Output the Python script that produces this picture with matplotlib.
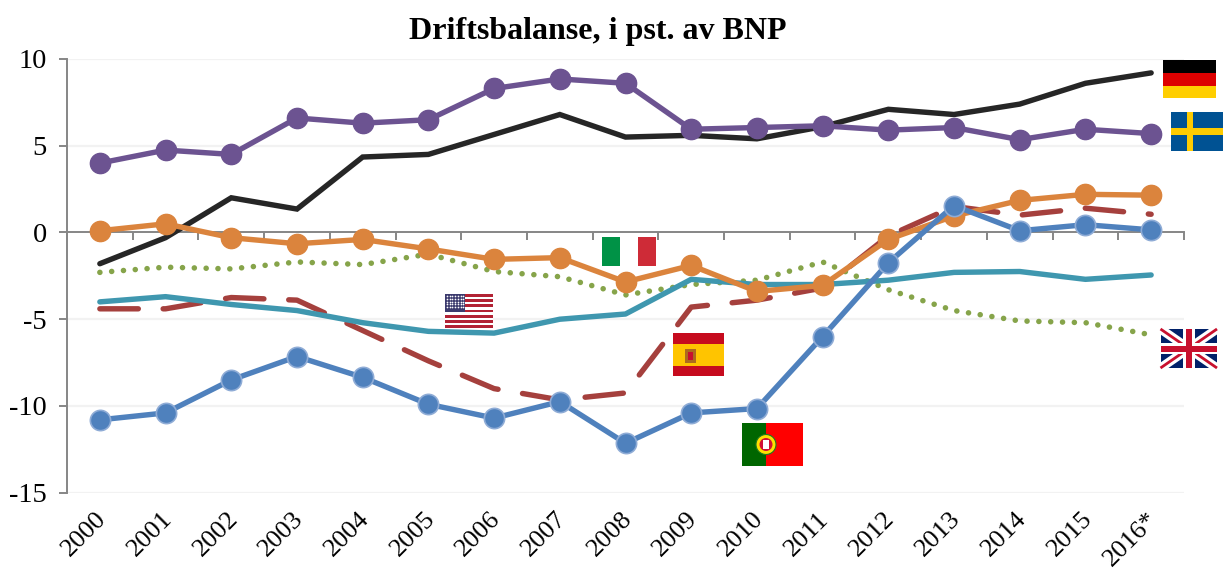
import matplotlib
matplotlib.use('Agg')
import matplotlib.pyplot as plt
from matplotlib.patches import Rectangle, Circle

plt.rcParams['font.family'] = ['Liberation Serif', 'DejaVu Serif']

# 年份
years = ['2000', '2001', '2002', '2003', '2004', '2005', '2006', '2007', '2008',
         '2009', '2010', '2011', '2012', '2013', '2014', '2015', '2016*']

# driftsbalanse, i pst. av BNP
germany = [-1.8, -0.3, 2.0, 1.35, 4.35, 4.5, 5.65, 6.8, 5.5, 5.6, 5.4, 6.1, 7.1, 6.8, 7.4, 8.6, 9.2]
sweden = [4.0, 4.75, 4.5, 6.6, 6.3, 6.5, 8.3, 8.85, 8.6, 5.95, 6.05, 6.15, 5.9, 6.05, 5.35, 5.95, 5.7]
italy = [0.1, 0.5, -0.3, -0.65, -0.4, -0.95, -1.55, -1.45, -2.85, -1.9, -3.4, -3.05, -0.4, 0.95, 1.85, 2.2, 2.15]
uk = [-2.3, -2.0, -2.1, -1.7, -1.85, -1.25, -2.25, -2.55, -3.6, -3.0, -2.75, -1.7, -3.3, -4.5, -5.1, -5.2, -5.9]
usa = [-4.0, -3.7, -4.15, -4.5, -5.2, -5.7, -5.8, -5.0, -4.7, -2.7, -3.0, -3.0, -2.75, -2.3, -2.25, -2.7, -2.45]
spain = [-4.4, -4.4, -3.75, -3.9, -5.65, -7.4, -9.0, -9.65, -9.25, -4.3, -3.9, -3.2, -0.2, 1.5, 1.0, 1.4, 1.05]
portugal = [-10.8, -10.4, -8.5, -7.15, -8.35, -9.9, -10.7, -9.75, -12.15, -10.4, -10.15, -6.0, -1.75, 1.55, 0.1, 0.45, 0.15]

W, H = 1223, 568
fig = plt.figure(figsize=(W / 100, H / 100), dpi=100)
ax = fig.add_axes([67 / W, 1 - 492.7 / H, (1184 - 67) / W, (492.7 - 59) / H])

x = list(range(len(years)))
lw = 3.9
ms = 14.6

ax.plot(x, germany, color='#262626', lw=lw, solid_joinstyle='miter', solid_capstyle='round', zorder=3)
ax.plot(x, spain, color='#A5403D', lw=lw, linestyle=(0, (7.1, 4.585)), dash_capstyle='round', zorder=3.1)
ax.plot(x, uk, color='#86A44A', lw=4, linestyle=(0, (0.01, 2.12)), dash_capstyle='round', zorder=3.2)
ax.plot(x, usa, color='#3F97AF', lw=lw, solid_capstyle='round', zorder=3.3)
ax.plot(x, sweden, 'o-', color='#6C5391', lw=lw, ms=ms, mec='#6C5391', zorder=3.4)
ax.plot(x, italy, 'o-', color='#DB843D', lw=lw, ms=ms, mec='#DB843D', zorder=3.5)
ax.plot(x, portugal, 'o-', color='#4F81BD', lw=lw, ms=ms, mec='#8FACD6', mew=1.2, zorder=3.6)

ax.set_xlim(-0.5, len(years) - 0.5)
ax.set_ylim(-15, 10)
ax.set_yticks([-15, -10, -5, 0, 5, 10])
ax.set_yticklabels(['-15', '-10', '-5', '0', '5', '10'], fontsize=20.5)
ax.tick_params(axis='y', length=6, width=1.4, color='#868686', pad=8.5)
ax.set_xticks([i - 0.5 for i in range(len(years) + 1)])
ax.set_xticklabels([])
ax.tick_params(axis='x', length=6, width=1.4, color='#868686', direction='out')

for v in [-15, -10, -5, 5, 10]:
    ax.axhline(v, color='#F2F2F2', lw=1.6, zorder=1)

for s in ['top', 'right']:
    ax.spines[s].set_visible(False)
ax.spines['left'].set_color('#868686')
ax.spines['left'].set_linewidth(1.4)
ax.spines['bottom'].set_position(('data', 0))
ax.spines['bottom'].set_color('#868686')
ax.spines['bottom'].set_linewidth(1.4)
ax.patch.set_alpha(0)

# 年份标签
trans = ax.get_xaxis_transform()
for i, label in enumerate(years):
    ax.text(i - 0.07, -0.035, label, transform=trans, rotation=45, fontsize=19,
            ha='right', va='top', rotation_mode='anchor', clip_on=False)

fig.text(598 / W, 1 - 31.5 / H, 'Driftsbalanse, i pst. av BNP', fontsize=23, fontweight='bold',
         ha='center', va='center', color='black')

# 国旗 (像素坐标)
ov = fig.add_axes([0, 0, 1, 1])
ov.set_xlim(0, W)
ov.set_ylim(H, 0)
ov.axis('off')
ov.patch.set_alpha(0)


def rect(x0, y0, x1, y1, c, z=5):
    ov.add_patch(Rectangle((x0, y0), x1 - x0, y1 - y0, facecolor=c, edgecolor='none', zorder=z))


# Tyskland
rect(1163, 60, 1215.5, 73, '#000000')
rect(1163, 73, 1215.5, 85.5, '#DD0000')
rect(1163, 85.5, 1215.5, 98, '#FFCE00')

# Sverige
rect(1170.5, 112, 1223, 151, '#005293')
rect(1186.5, 112, 1193, 151, '#FECB00', 6)
rect(1170.5, 128, 1223, 135, '#FECB00', 6)

# Italia
rect(602, 237, 620, 266, '#009246')
rect(620, 237, 638, 266, '#FFFFFF')
rect(638, 237, 656, 266, '#CE2B37')

# USA
rect(445, 294, 493, 328, '#FFFFFF')
for k in range(7):
    y0 = 294 + k * 2 * 34 / 13
    rect(445, y0, 493, y0 + 34 / 13, '#B22234')
rect(445, 294, 465, 312, '#3C3B6E', 6)
star_x = [447 + 2.7 * a for a in range(7)]
star_y = [296 + 2.8 * b for b in range(5)]
ov.scatter([a for a in star_x for b in star_y], [b for a in star_x for b in star_y],
           s=1.5, color='white', linewidths=0, zorder=7)

# Spania
rect(673, 333, 723.5, 376, '#C60B1E')
rect(673, 344, 723.5, 365.5, '#FFC400', 6)
rect(685, 349, 696, 363, '#AD6A1E', 7)
rect(688, 352, 693, 360, '#C8102E', 8)

# Portugal
rect(741.5, 423, 766, 466, '#006600')
rect(766, 423, 802.5, 466, '#FF0000')
ov.add_patch(Circle((766, 444.5), 10, facecolor='#FFE000', edgecolor='#1E7B1E', lw=0.8, zorder=7))
ov.add_patch(Circle((766, 444.5), 6.5, facecolor='#D21034', edgecolor='none', zorder=8))
rect(763, 440, 769, 449, '#FFFFFF', 9)

# Storbritannia
ux0, ux1, uy0, uy1 = 1160.5, 1217, 329, 368
rect(ux0, uy0, ux1, uy1, '#012169')
for a, b, c, d in [(ux0, uy0, ux1, uy1), (ux0, uy1, ux1, uy0)]:
    ov.plot([a, c], [b, d], color='white', lw=6.5, solid_capstyle='butt', zorder=6)
    ov.plot([a, c], [b, d], color='#C8102E', lw=2, solid_capstyle='butt', zorder=6.1)
rect(ux0, 343, ux1, 354, '#FFFFFF', 7)
rect(1183, uy0, 1195, uy1, '#FFFFFF', 7)
rect(ux0, 345.5, ux1, 351.5, '#C8102E', 8)
rect(1186, uy0, 1192, uy1, '#C8102E', 8)

fig.savefig('out.png', dpi=100)
